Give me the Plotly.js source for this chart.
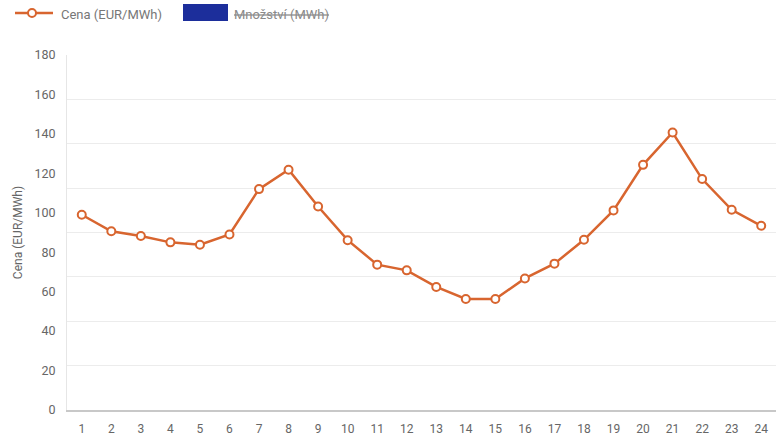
<!DOCTYPE html>
<html>
<head>
<meta charset="utf-8">
<script src="https://cdn.plot.ly/plotly-3.0.1.min.js"></script>
<style>html,body{margin:0;padding:0;background:#fff;}#chart{width:776px;height:438px;}</style>
</head>
<body>
<div id="chart"></div>
<script>
// ---- data ----
const hours = ["1","2","3","4","5","6","7","8","9","10","11","12","13","14","15","16","17","18","19","20","21","22","23","24"];
const cena = [99.0, 90.6, 88.2, 85.0, 83.8, 89.0, 112.0, 121.8, 103.2, 86.1, 73.7, 70.8, 62.4, 56.3, 56.3, 66.7, 74.2, 86.3, 101.2, 124.3, 140.7, 117.1, 101.5, 93.4];
const yTickVals = [0, 20, 40, 60, 80, 100, 120, 140, 160, 180];
const seriesNames = ["Cena (EUR/MWh)", "Množství (MWh)"];
const yTitle = "Cena (EUR/MWh)";

// ---- layout helpers (pixel -> paper) ----
const L = 67, R = 776, T = 55, B = 410.5;
const px = x => (x - L) / (R - L);
const py = y => (B - y) / (B - T);

const orange = "#d8652f";
const blue = "#1c2e9b";
const font = "Roboto, Arial, sans-serif";

const traces = [
  {
    x: hours, y: cena, type: "scatter", mode: "lines+markers",
    name: seriesNames[0], showlegend: false,
    line: {color: orange, width: 2.5},
    marker: {symbol: "circle", size: 8, color: "#ffffff", line: {color: orange, width: 2}},
    hoverinfo: "x+y"
  },
  {
    x: [hours[0]], y: [null], type: "scatter", mode: "markers", yaxis: "y2",
    showlegend: false, hoverinfo: "skip", marker: {opacity: 0}
  }
];

const layout = {
  width: 776, height: 438,
  margin: {l: L, r: 776 - R, t: T, b: 438 - B},
  paper_bgcolor: "#ffffff", plot_bgcolor: "#ffffff",
  font: {family: font, color: "#666666", size: 12},
  showlegend: false,
  xaxis: {
    type: "category", range: [-0.5, 23.5],
    showgrid: false, zeroline: false,
    showline: true, linecolor: "#c8c8c8", linewidth: 1.5,
    ticks: "outside", ticklen: 7, tickcolor: "rgba(0,0,0,0)",
    tickfont: {size: 12, color: "#666666"}
  },
  yaxis: {
    range: [0, 180], tickvals: yTickVals, ticktext: yTickVals.map(String),
    showgrid: false, zeroline: false,
    showline: true, linecolor: "#e6e6e6", linewidth: 1,
    ticks: "outside", ticklen: 8, tickcolor: "rgba(0,0,0,0)",
    tickfont: {size: 12.5, color: "#666666"},
    title: {text: yTitle, font: {size: 12, color: "#666666"}, standoff: 9}
  },
  yaxis2: {
    overlaying: "y", side: "left", range: [0, 8], dtick: 1,
    showgrid: true, gridcolor: "#ececec", gridwidth: 1,
    zeroline: false, showticklabels: false, ticks: "", showline: false
  },
  shapes: [
    {type: "line", xref: "paper", yref: "paper", x0: px(15), x1: px(53), y0: py(13), y1: py(13),
     line: {color: orange, width: 2.5}},
    {type: "circle", xref: "paper", yref: "paper", x0: px(28), x1: px(36), y0: py(17), y1: py(9),
     fillcolor: "#ffffff", line: {color: orange, width: 2}},
    {type: "rect", xref: "paper", yref: "paper", x0: px(183), x1: px(228), y0: py(21), y1: py(4),
     fillcolor: blue, line: {width: 0}}
  ],
  annotations: [
    {xref: "paper", yref: "paper", x: px(59), y: py(14), xanchor: "left", yanchor: "middle",
     text: seriesNames[0], showarrow: false, font: {size: 13, color: "#777777"}},
    {xref: "paper", yref: "paper", x: px(232), y: py(14), xanchor: "left", yanchor: "middle",
     text: "<s>" + seriesNames[1] + "</s>", showarrow: false, font: {size: 13, color: "#8a8a8a"}}
  ]
};

Plotly.newPlot("chart", traces, layout, {displayModeBar: false, staticPlot: true});
</script>
</body>
</html>
